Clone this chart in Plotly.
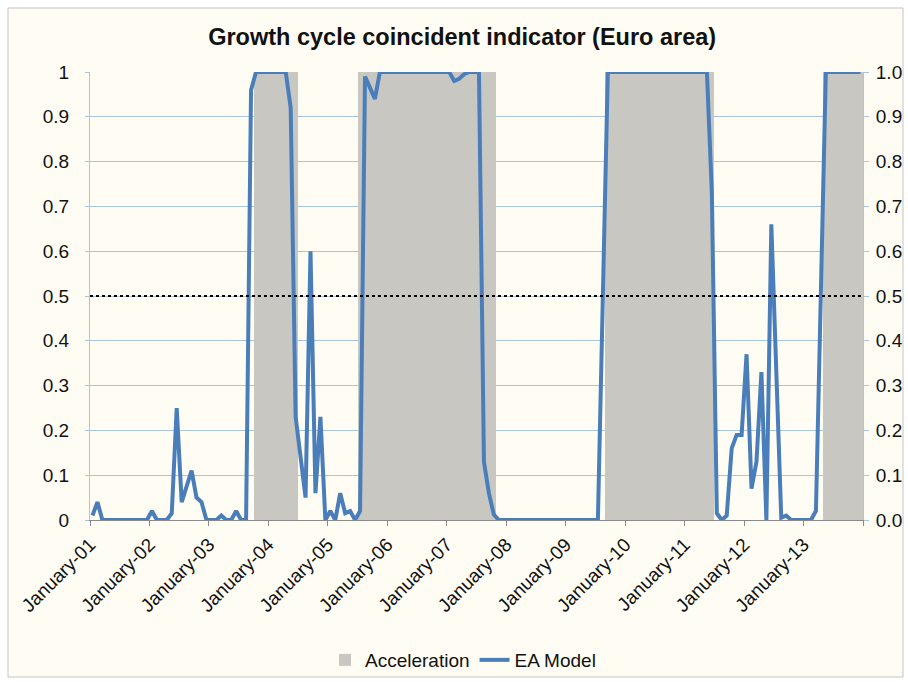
import plotly.graph_objects as go

# Monthly data, January 2001 .. December 2013 (156 months)
year_labels = ["January-01", "January-02", "January-03", "January-04", "January-05",
               "January-06", "January-07", "January-08", "January-09", "January-10",
               "January-11", "January-12", "January-13"]

ea_model = [
    # 2001
    0.01, 0.04, 0, 0, 0, 0, 0, 0, 0, 0, 0, 0,
    # 2002
    0.02, 0, 0, 0, 0.015, 0.25, 0.04, 0.075, 0.11, 0.05, 0.04, 0,
    # 2003
    0, 0, 0.01, 0, 0, 0.02, 0, 0, 0.96, 1.0, 1.0, 1.0,
    # 2004
    1.0, 1.0, 1.0, 1.0, 0.92, 0.23, 0.14, 0.05, 0.60, 0.06, 0.23, 0,
    # 2005
    0.02, 0, 0.06, 0.015, 0.02, 0, 0.02, 0.99, 0.965, 0.94, 1.0, 1.0,
    # 2006
    1.0, 1.0, 1.0, 1.0, 1.0, 1.0, 1.0, 1.0, 1.0, 1.0, 1.0, 1.0,
    # 2007
    1.0, 0.98, 0.985, 0.995, 1.0, 1.0, 1.0, 0.13, 0.06, 0.012, 0, 0,
    # 2008
    0, 0, 0, 0, 0, 0, 0, 0, 0, 0, 0, 0,
    # 2009
    0, 0, 0, 0, 0, 0, 0, 0.5, 1.0, 1.0, 1.0, 1.0,
    # 2010
    1.0, 1.0, 1.0, 1.0, 1.0, 1.0, 1.0, 1.0, 1.0, 1.0, 1.0, 1.0,
    # 2011
    1.0, 1.0, 1.0, 1.0, 1.0, 0.73, 0.015, 0, 0.01, 0.16, 0.19, 0.19,
    # 2012
    0.37, 0.07, 0.13, 0.33, 0, 0.66, 0.33, 0.005, 0.01, 0, 0, 0,
    # 2013
    0, 0, 0.02, 0.5, 1.0, 1.0, 1.0, 1.0, 1.0, 1.0, 1.0, 1.0,
]

acceleration = [
    # 2001
    0, 0, 0, 0, 0, 0, 0, 0, 0, 0, 0, 0,
    # 2002
    0, 0, 0, 0, 0, 0, 0, 0, 0, 0, 0, 0,
    # 2003
    0, 0, 0, 0, 0, 0, 0, 0, 0, 1, 1, 1,
    # 2004
    1, 1, 1, 1, 1, 1, 0, 0, 0, 0, 0, 0,
    # 2005
    0, 0, 0, 0, 0, 0, 1, 1, 1, 1, 1, 1,
    # 2006
    1, 1, 1, 1, 1, 1, 1, 1, 1, 1, 1, 1,
    # 2007
    1, 1, 1, 1, 1, 1, 1, 1, 1, 1, 0, 0,
    # 2008
    0, 0, 0, 0, 0, 0, 0, 0, 0, 0, 0, 0,
    # 2009
    0, 0, 0, 0, 0, 0, 0, 0, 1, 1, 1, 1,
    # 2010
    1, 1, 1, 1, 1, 1, 1, 1, 1, 1, 1, 1,
    # 2011
    1, 1, 1, 1, 1, 1, 0, 0, 0, 0, 0, 0,
    # 2012
    0, 0, 0, 0, 0, 0, 0, 0, 0, 0, 0, 0,
    # 2013
    0, 0, 0, 0, 1, 1, 1, 1, 1, 1, 1, 1,
]

threshold = 0.5

months = list(range(len(ea_model)))
tick_vals = [m - 0.5 for m in months if m % 12 == 0] + [len(months) - 0.5]
tick_text = year_labels + [""]

FONT = "Liberation Sans, Arial, sans-serif"
GRID = "#a9c6da"

fig = go.Figure()
fig.add_trace(go.Bar(
    x=months, y=acceleration, name="Acceleration",
    marker=dict(color="#c9c7c2", line=dict(width=0)),
    width=1.0,
))
fig.add_trace(go.Scatter(
    x=months, y=ea_model, name="EA Model", mode="lines",
    line=dict(color="#4a7ebb", width=4),
))
# invisible trace to activate the right axis
fig.add_trace(go.Scatter(
    x=months, y=ea_model, yaxis="y2", mode="lines",
    line=dict(width=0), opacity=0, showlegend=False, hoverinfo="skip",
))

fig.update_layout(
    width=908, height=682,
    margin=dict(l=90, r=45, t=72, b=162),
    paper_bgcolor="white",
    plot_bgcolor="rgba(0,0,0,0)",
    font=dict(family=FONT, size=19, color="#111111"),
    title=dict(text="<b>Growth cycle coincident indicator (Euro area)</b>",
               x=0.509, xanchor="center", y=1 - 37 / 682, yanchor="middle",
               font=dict(family=FONT, size=23.5, color="#111111")),
    bargap=0,
    showlegend=True,
    legend=dict(orientation="h", x=0.4825, xanchor="center",
                yref="container", y=1 - 660 / 682, yanchor="middle",
                font=dict(family=FONT, size=19, color="#111111"),
                bgcolor="rgba(0,0,0,0)", itemwidth=30),
    xaxis=dict(
        range=[-0.5, len(months) - 0.5], automargin=False,
        tickmode="array", tickvals=tick_vals, ticktext=tick_text,
        tickangle=-45, ticks="outside", ticklen=5, tickcolor="#8a8a8a",
        showgrid=False, showline=True, linecolor="#8a8a8a", linewidth=1,
        zeroline=False, tickfont=dict(family=FONT, size=19),
    ),
    yaxis=dict(
        range=[0, 1], dtick=0.1, tick0=0, automargin=False,
        showgrid=True, gridcolor=GRID, gridwidth=1,
        ticks="outside", ticklen=4, tickcolor=GRID, ticklabelstandoff=12,
        showline=True, linecolor=GRID, zeroline=False,
        tickfont=dict(family=FONT, size=19),
    ),
    yaxis2=dict(
        range=[0, 1], dtick=0.1, tick0=0, tickformat=".1f", automargin=False,
        overlaying="y", side="right",
        showgrid=False, ticks="outside", ticklen=5, tickcolor=GRID,
        showline=True, linecolor=GRID, zeroline=False, ticklabelstandoff=3,
        tickfont=dict(family=FONT, size=19),
    ),
    shapes=[
        dict(type="rect", xref="paper", yref="paper",
             x0=(8 - 90) / 773, x1=(903 - 90) / 773,
             y0=(520 - 677) / 448, y1=(520 - 8) / 448,
             fillcolor="#fffdf3", line=dict(color="#c4c4c4", width=1),
             layer="below"),
        dict(type="line", xref="paper", yref="y",
             x0=0, x1=1, y0=threshold, y1=threshold,
             line=dict(color="black", width=2, dash="dot"), layer="above"),
    ],
)

fig.write_html("out.html", config={"displayModeBar": False},
               post_script="document.body.style.margin='0';document.body.style.overflow='hidden';")
